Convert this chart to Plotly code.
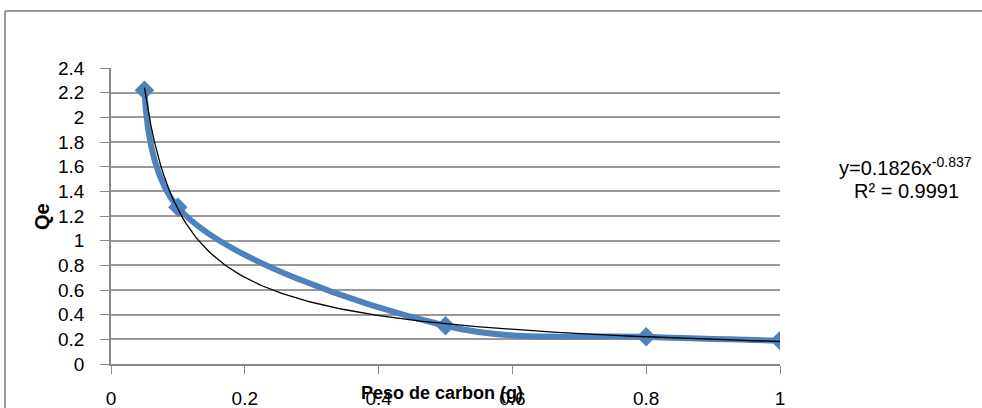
import numpy as np
import plotly.graph_objects as go

peso = [0.05, 0.1, 0.5, 0.8, 1.0]
qe = [2.22, 1.27, 0.31, 0.22, 0.19]
fit_a = 0.1826
fit_b = -0.837
x_ticks = [0, 0.2, 0.4, 0.6, 0.8, 1]
y_ticks = [0, 0.2, 0.4, 0.6, 0.8, 1, 1.2, 1.4, 1.6, 1.8, 2, 2.2, 2.4]

xt = np.linspace(min(peso), max(peso), 200)
yt = fit_a * xt ** fit_b

L, R, T, B = 111, 202, 68, 44
W, H = 982, 408
pw, ph = W - L - R, H - T - B

FAM = "Liberation Sans, Arial"
fig = go.Figure()
fig.add_trace(go.Scatter(x=peso, y=qe, mode="lines+markers",
                         line=dict(color="#4F81BD", width=6, shape="spline", smoothing=1.0),
                         marker=dict(symbol="diamond", size=15, color="#4F81BD"),
                         showlegend=False))
fig.add_trace(go.Scatter(x=xt, y=yt, mode="lines",
                         line=dict(color="black", width=1.3), showlegend=False))

font = dict(family=FAM, size=19, color="#000")
fig.update_layout(
    width=W, height=H, margin=dict(l=L, r=R, t=T, b=B),
    plot_bgcolor="white", paper_bgcolor="white", font=font,
    xaxis=dict(range=[0, 1], tickvals=x_ticks, ticktext=[str(v) for v in x_ticks],
               showgrid=False, showline=True, linecolor="#888", linewidth=1.5, automargin=False,
               ticks="outside", ticklen=8, tickcolor="#888", zeroline=False, ticklabelstandoff=8),
    yaxis=dict(range=[0, 2.4], tickvals=y_ticks, ticktext=[("%g" % v) for v in y_ticks],
               showgrid=True, gridcolor="#999", gridwidth=1.5, showline=True, linecolor="#888",
               linewidth=1.5, ticks="outside", ticklen=9, tickcolor="#888", zeroline=False,
               automargin=False, ticklabelstandoff=12),
    shapes=[
        dict(type="line", xref="paper", yref="paper", x0=(5 - L) / pw, x1=(W + 5 - L) / pw,
             y0=(H - B - 11) / ph, y1=(H - B - 11) / ph, line=dict(color="#999", width=2)),
        dict(type="line", xref="paper", yref="paper", x0=(5 - L) / pw, x1=(5 - L) / pw,
             y0=(H - B - 11) / ph, y1=-B / ph - 0.05, line=dict(color="#999", width=2)),
    ],
    annotations=[
        dict(text="<b>Peso de carbon (g)</b>", xref="paper", yref="paper",
             x=(442 - L) / pw, y=-(393 - (H - B)) / ph, xanchor="center", yanchor="middle",
             showarrow=False, font=dict(family=FAM, size=18, color="#000")),
        dict(text="<b>Qe</b>", xref="paper", yref="paper", x=(42 - L) / pw, y=((H - B) - 217) / ph,
             textangle=-90, xanchor="center", yanchor="middle", showarrow=False,
             font=dict(family=FAM, size=20, color="#000")),
        dict(text="y=0.1826x<sup>-0.837</sup>", xref="paper", yref="paper",
             x=(905 - L) / pw, y=((H - B) - 166) / ph, xanchor="center", yanchor="middle",
             showarrow=False, font=dict(family=FAM, size=20, color="#000")),
        dict(text="R² = 0.9991", xref="paper", yref="paper",
             x=(906 - L) / pw, y=((H - B) - 191) / ph, xanchor="center", yanchor="middle",
             showarrow=False, font=dict(family=FAM, size=20, color="#000")),
    ],
)
fig.write_html("out.html")
